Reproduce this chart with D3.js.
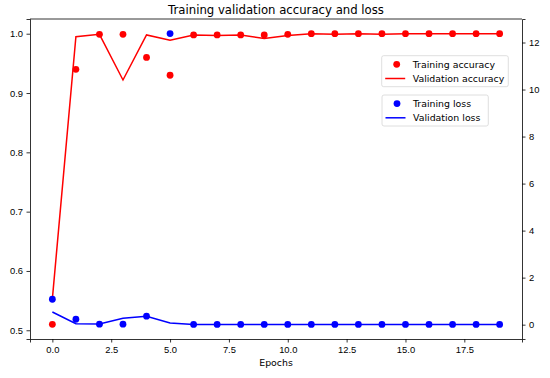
<!DOCTYPE html>
<html lang="en">
<head>
<meta charset="UTF-8">
<title>Training validation accuracy and loss</title>
<style>
    body { margin: 0; background: #fff; }
    svg { font-family: "DejaVu Sans", sans-serif; }
    .tick text { font-size: 9.4px; fill: #000; }
    .domain, .tick line { stroke: #000; stroke-width: 0.8; }
</style>
</head>
<body>
<svg width="550" height="378"></svg>
<script src="https://cdn.jsdelivr.net/npm/d3@7"></script>
<script>
    var epochs = d3.range(0, 20);
    var trainAcc = [0.51, 0.94, 0.999, 0.999, 0.96, 0.93, 0.998, 0.998, 0.998, 0.998,
                    0.999, 1.0, 1.0, 1.0, 1.0, 1.0, 1.0, 1.0, 1.0, 1.0];
    var valAcc = [0.553, 0.995, 0.999, 0.922, 0.998, 0.989, 0.998, 0.997, 0.998, 0.992,
                  0.997, 1.0, 0.999, 1.0, 0.999, 1.0, 1.0, 1.0, 1.0, 1.0];
    var trainLoss = [1.08, 0.23, 0.02, 0.02, 0.36, 12.38, 0.01, 0.01, 0.01, 0.01,
                     0.01, 0.01, 0.01, 0.01, 0.01, 0.01, 0.01, 0.01, 0.01, 0.01];
    var valLoss = [0.54, 0.04, 0.03, 0.27, 0.36, 0.07, 0.01, 0.01, 0.01, 0.01,
                   0.01, 0.01, 0.01, 0.01, 0.01, 0.01, 0.01, 0.01, 0.01, 0.01];
    var xTicks = [0, 2.5, 5, 7.5, 10, 12.5, 15, 17.5];
    var accTicks = [0.5, 0.6, 0.7, 0.8, 0.9, 1.0];
    var lossTicks = [0, 2, 4, 6, 8, 10, 12];

    var svg = d3.select("svg"),
        margin = {top: 19, right: 28, bottom: 39, left: 30},
        width = +svg.attr("width") - margin.left - margin.right,
        height = +svg.attr("height") - margin.top - margin.bottom;

    var x = d3.scaleLinear().domain([-0.95, 19.95]).range([0, width]);
    var yAcc = d3.scaleLinear().domain([0.4853, 1.0248]).range([height, 0]);
    var yLoss = d3.scaleLinear().domain([-0.61, 13.0]).range([height, 0]);

    var g = svg.append("g")
        .attr("transform", "translate(" + margin.left + "," + margin.top + ")");

    g.append("g")
        .attr("transform", "translate(0," + height + ")")
        .call(d3.axisBottom(x).tickValues(xTicks).tickFormat(d3.format(".1f")).tickSizeOuter(0).tickSize(3.5).tickPadding(3.5));
    g.append("g")
        .call(d3.axisLeft(yAcc).tickValues(accTicks).tickFormat(d3.format(".1f")).tickSizeOuter(0).tickSize(3.5).tickPadding(3.5));
    g.append("g")
        .attr("transform", "translate(" + width + ",0)")
        .call(d3.axisRight(yLoss).tickValues(lossTicks).tickSizeOuter(0).tickSize(3.5).tickPadding(3.5));
    g.append("line").attr("x1", 0).attr("x2", width).attr("y1", 0).attr("y2", 0)
        .attr("stroke", "#000").attr("stroke-width", 0.8);

    // accuracy
    g.selectAll(".acc-dot").data(epochs).enter().append("circle")
        .attr("cx", function(d) { return x(d); })
        .attr("cy", function(d) { return yAcc(trainAcc[d]); })
        .attr("r", 3.4).attr("fill", "#ff0000");
    g.append("path").datum(epochs)
        .attr("fill", "none").attr("stroke", "#ff0000").attr("stroke-width", 1.5)
        .attr("d", d3.line().x(function(d) { return x(d); }).y(function(d) { return yAcc(valAcc[d]); }));

    // loss
    g.selectAll(".loss-dot").data(epochs).enter().append("circle")
        .attr("cx", function(d) { return x(d); })
        .attr("cy", function(d) { return yLoss(trainLoss[d]); })
        .attr("r", 3.4).attr("fill", "#0000ff");
    g.append("path").datum(epochs)
        .attr("fill", "none").attr("stroke", "#0000ff").attr("stroke-width", 1.5)
        .attr("d", d3.line().x(function(d) { return x(d); }).y(function(d) { return yLoss(valLoss[d]); }));

    svg.append("text").attr("x", margin.left + width / 2).attr("y", 14)
        .attr("text-anchor", "middle").attr("font-size", 11.7).text("Training validation accuracy and loss");
    svg.append("text").attr("x", margin.left + width / 2).attr("y", 366)
        .attr("text-anchor", "middle").attr("font-size", 9.4).text("Epochs");

    function legend(x0, y0, w, items) {
        var lg = svg.append("g").attr("transform", "translate(" + x0 + "," + y0 + ")");
        lg.append("rect").attr("width", w).attr("height", 31).attr("rx", 2)
            .attr("fill", "#fff").attr("fill-opacity", 0.8).attr("stroke", "#d6d6d6").attr("stroke-width", 0.8);
        items.forEach(function(it, i) {
            var cy = 8.6 + i * 14.2;
            if (it.type === "dot") {
                lg.append("circle").attr("cx", 15).attr("cy", cy).attr("r", 3.4).attr("fill", it.color);
            } else {
                lg.append("line").attr("x1", 3.5).attr("x2", 23.5).attr("y1", cy).attr("y2", cy)
                    .attr("stroke", it.color).attr("stroke-width", 1.5);
            }
            lg.append("text").attr("x", 31).attr("y", cy).attr("dy", "0.35em")
                .attr("font-size", 9.4).text(it.label);
        });
    }
    legend(381.7, 55.7, 126.6, [
        {type: "dot", color: "#ff0000", label: "Training accuracy"},
        {type: "line", color: "#ff0000", label: "Validation accuracy"}
    ]);
    legend(382, 95, 106.3, [
        {type: "dot", color: "#0000ff", label: "Training loss"},
        {type: "line", color: "#0000ff", label: "Validation loss"}
    ]);
</script>
</body>
</html>
